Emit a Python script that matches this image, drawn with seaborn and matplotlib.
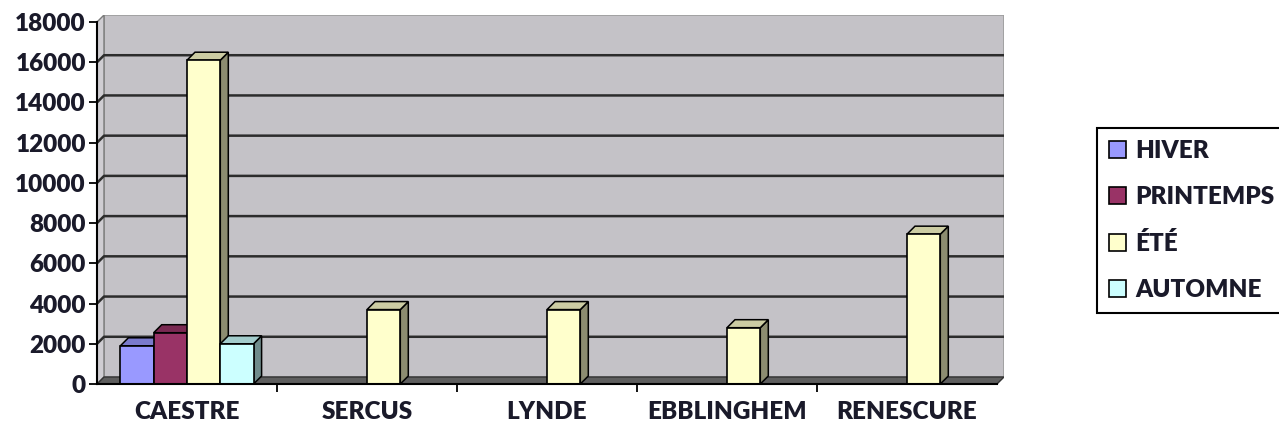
import matplotlib
matplotlib.use("Agg")
import matplotlib.pyplot as plt
from matplotlib.patches import Polygon, Rectangle
from matplotlib.colors import to_rgb
from matplotlib.font_manager import FontProperties
import pandas as pd
import seaborn as sns

# ==============
# Données
# ==============
communes = ["CAESTRE", "SERCUS", "LYNDE", "EBBLINGHEM", "RENESCURE"]
saisons = ["HIVER", "PRINTEMPS", "ÉTÉ", "AUTOMNE"]
hiver = [1900, None, None, None, None]
printemps = [2550, None, None, None, None]
ete = [16100, 3700, 3700, 2800, 7450]
automne = [2000, None, None, None, None]
couleurs = ["#9999FF", "#993366", "#FFFFCC", "#CCFFFF"]
yticks = list(range(0, 18001, 2000))

rows = []
for saison, vals in zip(saisons, [hiver, printemps, ete, automne]):
    for commune, v in zip(communes, vals):
        if v is not None:
            rows.append({"commune": commune, "saison": saison, "valeur": v})
df = pd.DataFrame(rows)

# ==============
# Figure
# ==============
sns.set_theme(style="white")
plt.rcParams["font.family"] = ["Lato", "DejaVu Sans"]
plt.rcParams["font.weight"] = "bold"

W, H = 1279, 430
fig = plt.figure(figsize=(W / 100, H / 100), dpi=100)
ax = fig.add_axes([97 / W, 46 / H, 907 / W, 369 / H])

# profondeur "3D" en unités de données (px -> données)
PX_X = 1 / 180       # une catégorie = 180 px
PX_Y = 1000 / 20.1   # 1000 = 20.1 px
DX, DY = 7 * PX_X, 7 * PX_Y
BX, BY = 8 * PX_X, 8 * PX_Y
TXT = "#1a1a2a"
FS = 17.5
fp = FontProperties(family="Lato", weight=800, size=FS)

sns.barplot(data=df, x="commune", y="valeur", hue="saison",
            order=communes, hue_order=saisons, palette=couleurs,
            width=0.74, edgecolor="black", linewidth=1.2,
            errorbar=None, saturation=1, ax=ax)

handles, labels = ax.get_legend_handles_labels()
if ax.legend_ is not None:
    ax.legend_.remove()

ax.set_xlim(-0.5, 4.5 + DX)
ax.set_ylim(0, 18000 + DY)
ax.set_facecolor("white")

# murs
ax.add_patch(Rectangle((-0.5 + DX, DY), 5, 18000, fc="#c4c2c7",
                       ec="#9c9c9c", lw=1.2, zorder=0.2))
ax.add_patch(Polygon([(-0.5, 0), (-0.5 + DX, DY), (-0.5 + DX, 18000 + DY),
                      (-0.5, 18000)], fc="#cfcdd2", ec="#7a7a7a", lw=1.0, zorder=0.3))
ax.add_patch(Polygon([(-0.5, 0), (4.5, 0), (4.5 + DX, DY), (-0.5 + DX, DY)],
                     fc="#5e5e5e", ec="#333333", lw=1.0, zorder=0.4))
for v in yticks[1:-1]:
    ax.plot([-0.5, -0.5 + DX, 4.5 + DX], [v, v + DY, v + DY],
            color="#2c2c2c", lw=1.8, zorder=0.6, solid_capstyle="butt")

# barres en relief
bars = sorted([p for p in ax.patches if isinstance(p, Rectangle) and p.get_height() > 0
               and p.get_zorder() >= 1], key=lambda p: p.get_x())
for i, p in enumerate(bars):
    x0 = p.get_x()
    x1 = x0 + p.get_width()
    h = p.get_height()
    c = to_rgb(p.get_facecolor())
    z = 3 + i * 0.1
    p.set_zorder(z + 0.05)
    top = Polygon([(x0, h), (x0 + BX, h + BY), (x1 + BX, h + BY), (x1, h)],
                  fc=tuple(k * 0.8 for k in c), ec="black", lw=1.1, zorder=z)
    side = Polygon([(x1, 0), (x1, h), (x1 + BX, h + BY), (x1 + BX, BY)],
                   fc=tuple(k * 0.55 for k in c), ec="black", lw=1.1, zorder=z)
    ax.add_patch(side)
    ax.add_patch(top)

# axes
for s in ["top", "right"]:
    ax.spines[s].set_visible(False)
ax.spines["left"].set_bounds(0, 18000)
ax.spines["bottom"].set_bounds(-0.5, 4.5)
for s in ["left", "bottom"]:
    ax.spines[s].set_color("black")
    ax.spines[s].set_linewidth(1.5)
    ax.spines[s].set_zorder(10)

ax.set_xticks([i + 0.5 for i in range(len(communes) - 1)], minor=True)
ax.set_yticks(yticks)
ax.set_yticklabels([str(v) for v in yticks])
ax.set_xticks(range(len(communes)))
ax.set_xticklabels(communes)
ax.tick_params(axis="y", direction="out", length=6, width=1.3, color="black",
               labelcolor=TXT, pad=2, left=True)
ax.tick_params(axis="x", which="major", length=0, labelcolor=TXT, pad=12)
ax.tick_params(axis="x", which="minor", direction="out", length=6, width=1.3,
               color="black", bottom=True)
ax.set_xlabel("")
ax.set_ylabel("")

leg = fig.legend(handles, labels, loc="upper left",
                 bbox_to_anchor=(1097 / W, 1 - 128 / H), borderaxespad=0,
                 frameon=True, fancybox=False, edgecolor="black", framealpha=1,
                 prop=fp,
                 handlelength=0.7, handleheight=0.7, handletextpad=0.37,
                 labelspacing=0.98, borderpad=0.5)
leg.get_frame().set_linewidth(1.5)
for t in leg.get_texts():
    t.set_color(TXT)

fig.canvas.draw()
for tick in ax.xaxis.get_major_ticks() + ax.yaxis.get_major_ticks():
    tick.label1.set_fontproperties(fp)

fig.savefig("out.png", dpi=100)
